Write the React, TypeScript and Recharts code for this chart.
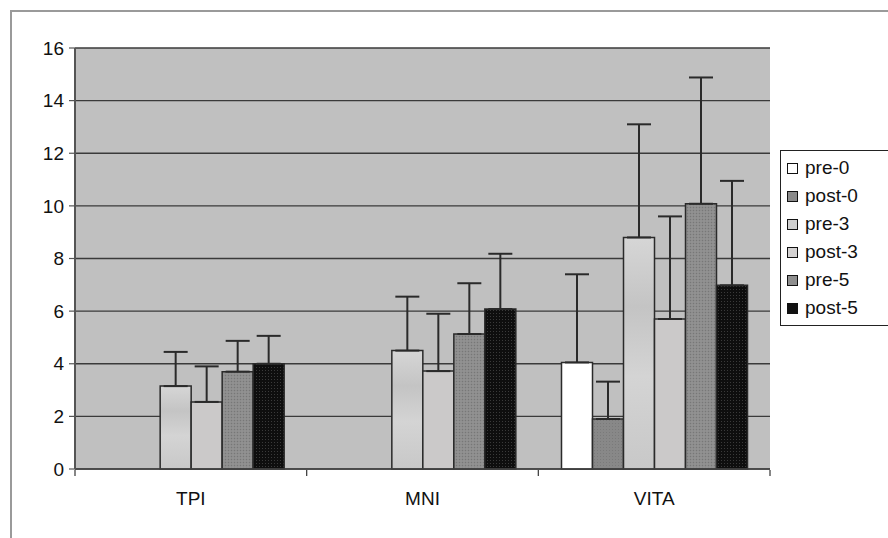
import React from 'react';
import { BarChart, Bar, XAxis, YAxis, CartesianGrid, ErrorBar, Legend } from 'recharts';

const categories = ['TPI', 'MNI', 'VITA'];
const seriesNames = ['pre-0', 'post-0', 'pre-3', 'post-3', 'pre-5', 'post-5'];
const pre0 = [null, null, 4.05];
const post0 = [null, null, 1.9];
const pre3 = [3.15, 4.5, 8.8];
const post3 = [2.55, 3.72, 5.7];
const pre5 = [3.7, 5.13, 10.08];
const post5 = [4.0, 6.08, 6.98];
const pre0Err = [null, null, 3.35];
const post0Err = [null, null, 1.42];
const pre3Err = [1.3, 2.05, 4.3];
const post3Err = [1.35, 2.18, 3.9];
const pre5Err = [1.17, 1.93, 4.8];
const post5Err = [1.06, 2.1, 3.97];
const yTicks = [0, 2, 4, 6, 8, 10, 12, 14, 16];

const seriesValues = [pre0, post0, pre3, post3, pre5, post5];
const seriesErrs = [pre0Err, post0Err, pre3Err, post3Err, pre5Err, post5Err];
const fills = ['#ffffff', 'url(#patPost0)', 'url(#gradPre3)', '#cbc9c9', 'url(#patPre5)', 'url(#patPost5)'];
const legendColors = ['#ffffff', '#8a8a8a', '#cfcfcf', '#d4d2d2', '#8e8e8e', '#111111'];

const data = categories.map((c, i) => {
  const row: any = { name: c };
  seriesValues.forEach((vals, s) => {
    row['v' + s] = vals[i];
    const e = seriesErrs[s][i];
    row['e' + s] = e == null ? null : [0, e];
  });
  return row;
});

const FONT = '"Liberation Sans", Arial, sans-serif';

const LegendContent = () => (
  <div
    style={{
      border: '1px solid #222',
      background: '#fff',
      width: 130,
      padding: '3px 0 3px 6px',
      boxSizing: 'border-box',
      fontFamily: FONT,
      fontSize: 19,
      color: '#111',
    }}
  >
    {seriesNames.map((n, i) => (
      <div key={n} style={{ display: 'flex', alignItems: 'center', height: 28 }}>
        <span
          style={{
            display: 'inline-block',
            width: 9,
            height: 9,
            border: '1.5px solid #111',
            background: legendColors[i],
            marginRight: 7,
          }}
        />
        <span>{n}</span>
      </div>
    ))}
  </div>
);

const CatTick = (props: any) => {
  const { x, y, payload, index, visibleTicksCount, width } = props;
  const count = visibleTicksCount || categories.length;
  const half = width / count / 2;
  const y0 = y - 13;
  return (
    <g>
      <line x1={x - half} x2={x - half} y1={y0} y2={y0 + 6} stroke="#444" strokeWidth={1.3} />
      {index === count - 1 && (
        <line x1={x + half} x2={x + half} y1={y0} y2={y0 + 6} stroke="#444" strokeWidth={1.3} />
      )}
      <text x={x} y={y} dy={22} textAnchor="middle" fontFamily={FONT} fontSize={19} fill="#111">
        {payload.value}
      </text>
    </g>
  );
};

export default function App() {
  return (
    <div style={{ position: 'absolute', left: 0, top: 0, width: 888, height: 538, background: '#fff', overflow: 'hidden' }}>
      <div
        style={{
          position: 'absolute',
          left: 10,
          top: 10,
          width: 900,
          height: 560,
          borderLeft: '2px solid #9a9a9a',
          borderTop: '2px solid #9a9a9a',
        }}
      />
      <div style={{ position: 'absolute', left: 0, top: 0 }}>
        <BarChart
          width={888}
          height={538}
          data={data}
          margin={{ top: 48, right: 118, bottom: 0, left: 0 }}
          barCategoryGap="10%"
          barGap={0}
          style={{ fontFamily: FONT }}
        >
          <defs>
            <linearGradient id="gradPre3" x1="0" y1="0" x2="0" y2="1">
              <stop offset="0%" stopColor="#d6d6d6" />
              <stop offset="30%" stopColor="#c4c4c4" />
              <stop offset="60%" stopColor="#d4d4d4" />
              <stop offset="100%" stopColor="#c8c8c8" />
            </linearGradient>
            <pattern id="patPre5" width="3" height="3" patternUnits="userSpaceOnUse">
              <rect width="3" height="3" fill="#8c8c8c" />
              <rect x="0" y="0" width="1" height="1" fill="#777" />
              <rect x="1.5" y="1.5" width="1" height="1" fill="#a0a0a0" />
            </pattern>
            <pattern id="patPost0" width="3" height="3" patternUnits="userSpaceOnUse">
              <rect width="3" height="3" fill="#888" />
              <rect x="0" y="0" width="1" height="1" fill="#7a7a7a" />
            </pattern>
            <pattern id="patPost5" width="3" height="3" patternUnits="userSpaceOnUse">
              <rect width="3" height="3" fill="#0e0e0e" />
              <rect x="1" y="1" width="1" height="1" fill="#3a3a3a" />
            </pattern>
          </defs>
          <CartesianGrid
            vertical={false}
            horizontal={true}
            stroke="#3a3a3a"
            strokeWidth={1.3}
            fill="#c0c0c0"
            fillOpacity={1}
          />
          <XAxis
            dataKey="name"
            height={69}
            axisLine={{ stroke: '#444', strokeWidth: 1.5 }}
            tickLine={false}
            interval={0}
            tick={<CatTick />}
            tickMargin={8}
          />
          <YAxis
            domain={[0, 16]}
            ticks={yTicks}
            width={75}
            axisLine={{ stroke: '#555', strokeWidth: 2 }}
            tickLine={{ stroke: '#555', strokeWidth: 1.2 }}
            tickSize={6}
            tickMargin={5}
            tick={{ fontSize: 19, fill: '#111', fontFamily: FONT }}
            interval={0}
          />
          <Legend
            layout="vertical"
            align="center"
            verticalAlign="middle"
            wrapperStyle={{ left: 780, top: 150, width: 130 }}
            content={<LegendContent />}
          />
          {seriesNames.map((n, s) => (
            <Bar
              key={n}
              dataKey={'v' + s}
              name={n}
              fill={fills[s]}
              stroke="#2a2a2a"
              strokeWidth={1.5}
              isAnimationActive={false}
            >
              <ErrorBar dataKey={'e' + s} direction="y" width={12} stroke="#2a2a2a" strokeWidth={2} />
            </Bar>
          ))}
        </BarChart>
      </div>
    </div>
  );
}
